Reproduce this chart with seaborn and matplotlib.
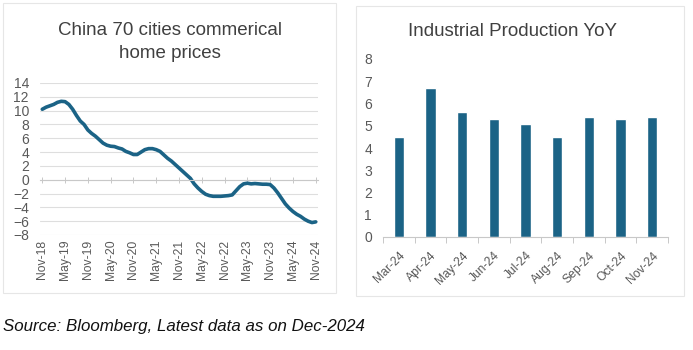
import matplotlib
matplotlib.use("Agg")
import matplotlib.pyplot as plt
from matplotlib.patches import Rectangle
import seaborn as sns
import pandas as pd
import numpy as np

# home prices, monthly Nov-18 .. Nov-24 (YoY %)
home_prices = [
    10.2, 10.5, 10.7, 10.9, 11.2, 11.35, 11.3, 10.9, 10.2, 9.3, 8.5, 8.0,   # Nov-18..Oct-19
    7.2, 6.7, 6.3, 5.8, 5.3, 5.0, 4.85, 4.8, 4.6, 4.45, 4.1, 3.9,        # Nov-19..Oct-20
    3.65, 3.65, 4.0, 4.35, 4.5, 4.5, 4.35, 4.1, 3.6, 3.1, 2.7, 2.2,       # Nov-20..Oct-21
    1.7, 1.2, 0.7, 0.2, -0.6, -1.2, -1.7, -2.1, -2.3, -2.4, -2.4, -2.4,   # Nov-21..Oct-22
    -2.35, -2.3, -2.2, -1.6, -1.0, -0.6, -0.5, -0.6, -0.55, -0.6, -0.65, -0.65,  # Nov-22..Oct-23
    -0.7, -1.2, -1.9, -2.7, -3.5, -4.1, -4.6, -5.0, -5.3, -5.7, -6.0, -6.2,      # Nov-23..Oct-24
    -6.1,                                                                 # Nov-24
]
home_ticks = ["Nov-18", "May-19", "Nov-19", "May-20", "Nov-20", "May-21", "Nov-21",
              "May-22", "Nov-22", "May-23", "Nov-23", "May-24", "Nov-24"]

ip_months = ["Mar-24", "Apr-24", "May-24", "Jun-24", "Jul-24", "Aug-24",
             "Sep-24", "Oct-24", "Nov-24"]
ip_values = [4.5, 6.7, 5.6, 5.3, 5.1, 4.5, 5.4, 5.3, 5.4]

blue = "#1b6386"
grey_txt = "#595959"

sns.set_theme(style="white")
plt.rcParams["font.family"] = ["Liberation Sans", "DejaVu Sans"]

W, H = 693, 350
fig = plt.figure(figsize=(W / 100, H / 100), dpi=100)


def px_axes(l, t, r, b):
    return fig.add_axes([l / W, 1 - b / H, (r - l) / W, (b - t) / H])


# panel frames
for (l, t, r, b) in [(3, 3, 336, 293), (356, 6, 684, 296)]:
    fig.patches.append(Rectangle((l / W, 1 - b / H), (r - l) / W, (b - t) / H,
                                 transform=fig.transFigure, fill=False,
                                 edgecolor="#e6e6e6", linewidth=0.8))

# ---- left: home prices line
ax1 = px_axes(40, 83, 318, 235)
df1 = pd.DataFrame({"i": np.arange(len(home_prices)), "v": home_prices})
sns.lineplot(data=df1, x="i", y="v", ax=ax1, color=blue, linewidth=2.6)
ax1.set_xlim(-0.6, len(home_prices) - 0.4)
ax1.set_ylim(-8, 14)
ax1.set_yticks(range(-8, 15, 2))
ax1.yaxis.grid(True, color="#dedede", linewidth=0.8)
ax1.set_axisbelow(True)
for s in ["top", "right", "left"]:
    ax1.spines[s].set_visible(False)
ax1.spines["bottom"].set_position(("data", 0))
ax1.spines["bottom"].set_color("#c8c8c8")
ax1.spines["bottom"].set_linewidth(0.8)
ax1.set_xticks(range(0, len(home_prices), 6))
ax1.set_xticklabels(home_ticks, rotation=90)
ax1.tick_params(axis="x", bottom=True, length=4, width=0.7, color="#c8c8c8",
                direction="inout", pad=41, labelsize=8.7, labelcolor=grey_txt)
ax1.tick_params(axis="y", left=False, length=0, pad=8, labelsize=10,
                labelcolor=grey_txt)
for lab in ax1.get_xticklabels():
    lab.set_verticalalignment("top")
ax1.set_xlabel("")
ax1.set_ylabel("")
fig.text(170 / W, 1 - 42 / H, "China 70 cities commerical\nhome prices",
         ha="center", va="center", fontsize=13.5, color="#404040",
         linespacing=1.4)

# ---- right: industrial production bars
ax2 = px_axes(383, 59, 668, 237)
df2 = pd.DataFrame({"m": ip_months, "v": ip_values})
sns.barplot(data=df2, x="m", y="v", ax=ax2, color=blue, width=0.32,
            saturation=1)
ax2.set_ylim(0, 8)
ax2.set_yticks(range(0, 9))
ax2.set_xlim(-0.5, len(ip_months) - 0.5)
for s in ["top", "right", "left"]:
    ax2.spines[s].set_visible(False)
ax2.spines["bottom"].set_color("#c8c8c8")
ax2.spines["bottom"].set_linewidth(0.8)
ax2.set_xticks(np.arange(-0.5, len(ip_months)), minor=True)
ax2.tick_params(axis="x", which="minor", bottom=True, length=4, width=0.7,
                color="#c8c8c8")
ax2.tick_params(axis="x", which="major", bottom=False, pad=3, labelsize=8.7,
                labelcolor=grey_txt)
plt.setp(ax2.get_xticklabels(), rotation=45, ha="right", rotation_mode="anchor")
ax2.tick_params(axis="y", left=False, length=0, pad=8, labelsize=10,
                labelcolor=grey_txt)
ax2.set_xlabel("")
ax2.set_ylabel("")
fig.text(513 / W, 1 - 31 / H, "Industrial Production YoY",
         ha="center", va="center", fontsize=13.5, color="#404040")

# ---- source note
fig.text(3 / W, 1 - 327 / H, "Source: Bloomberg, Latest data as on Dec-2024",
         ha="left", va="center", fontsize=12.2, style="italic", color="#111111",
         family=["Liberation Sans Narrow", "Liberation Sans", "DejaVu Sans"])

fig.savefig("out.png", dpi=100)
